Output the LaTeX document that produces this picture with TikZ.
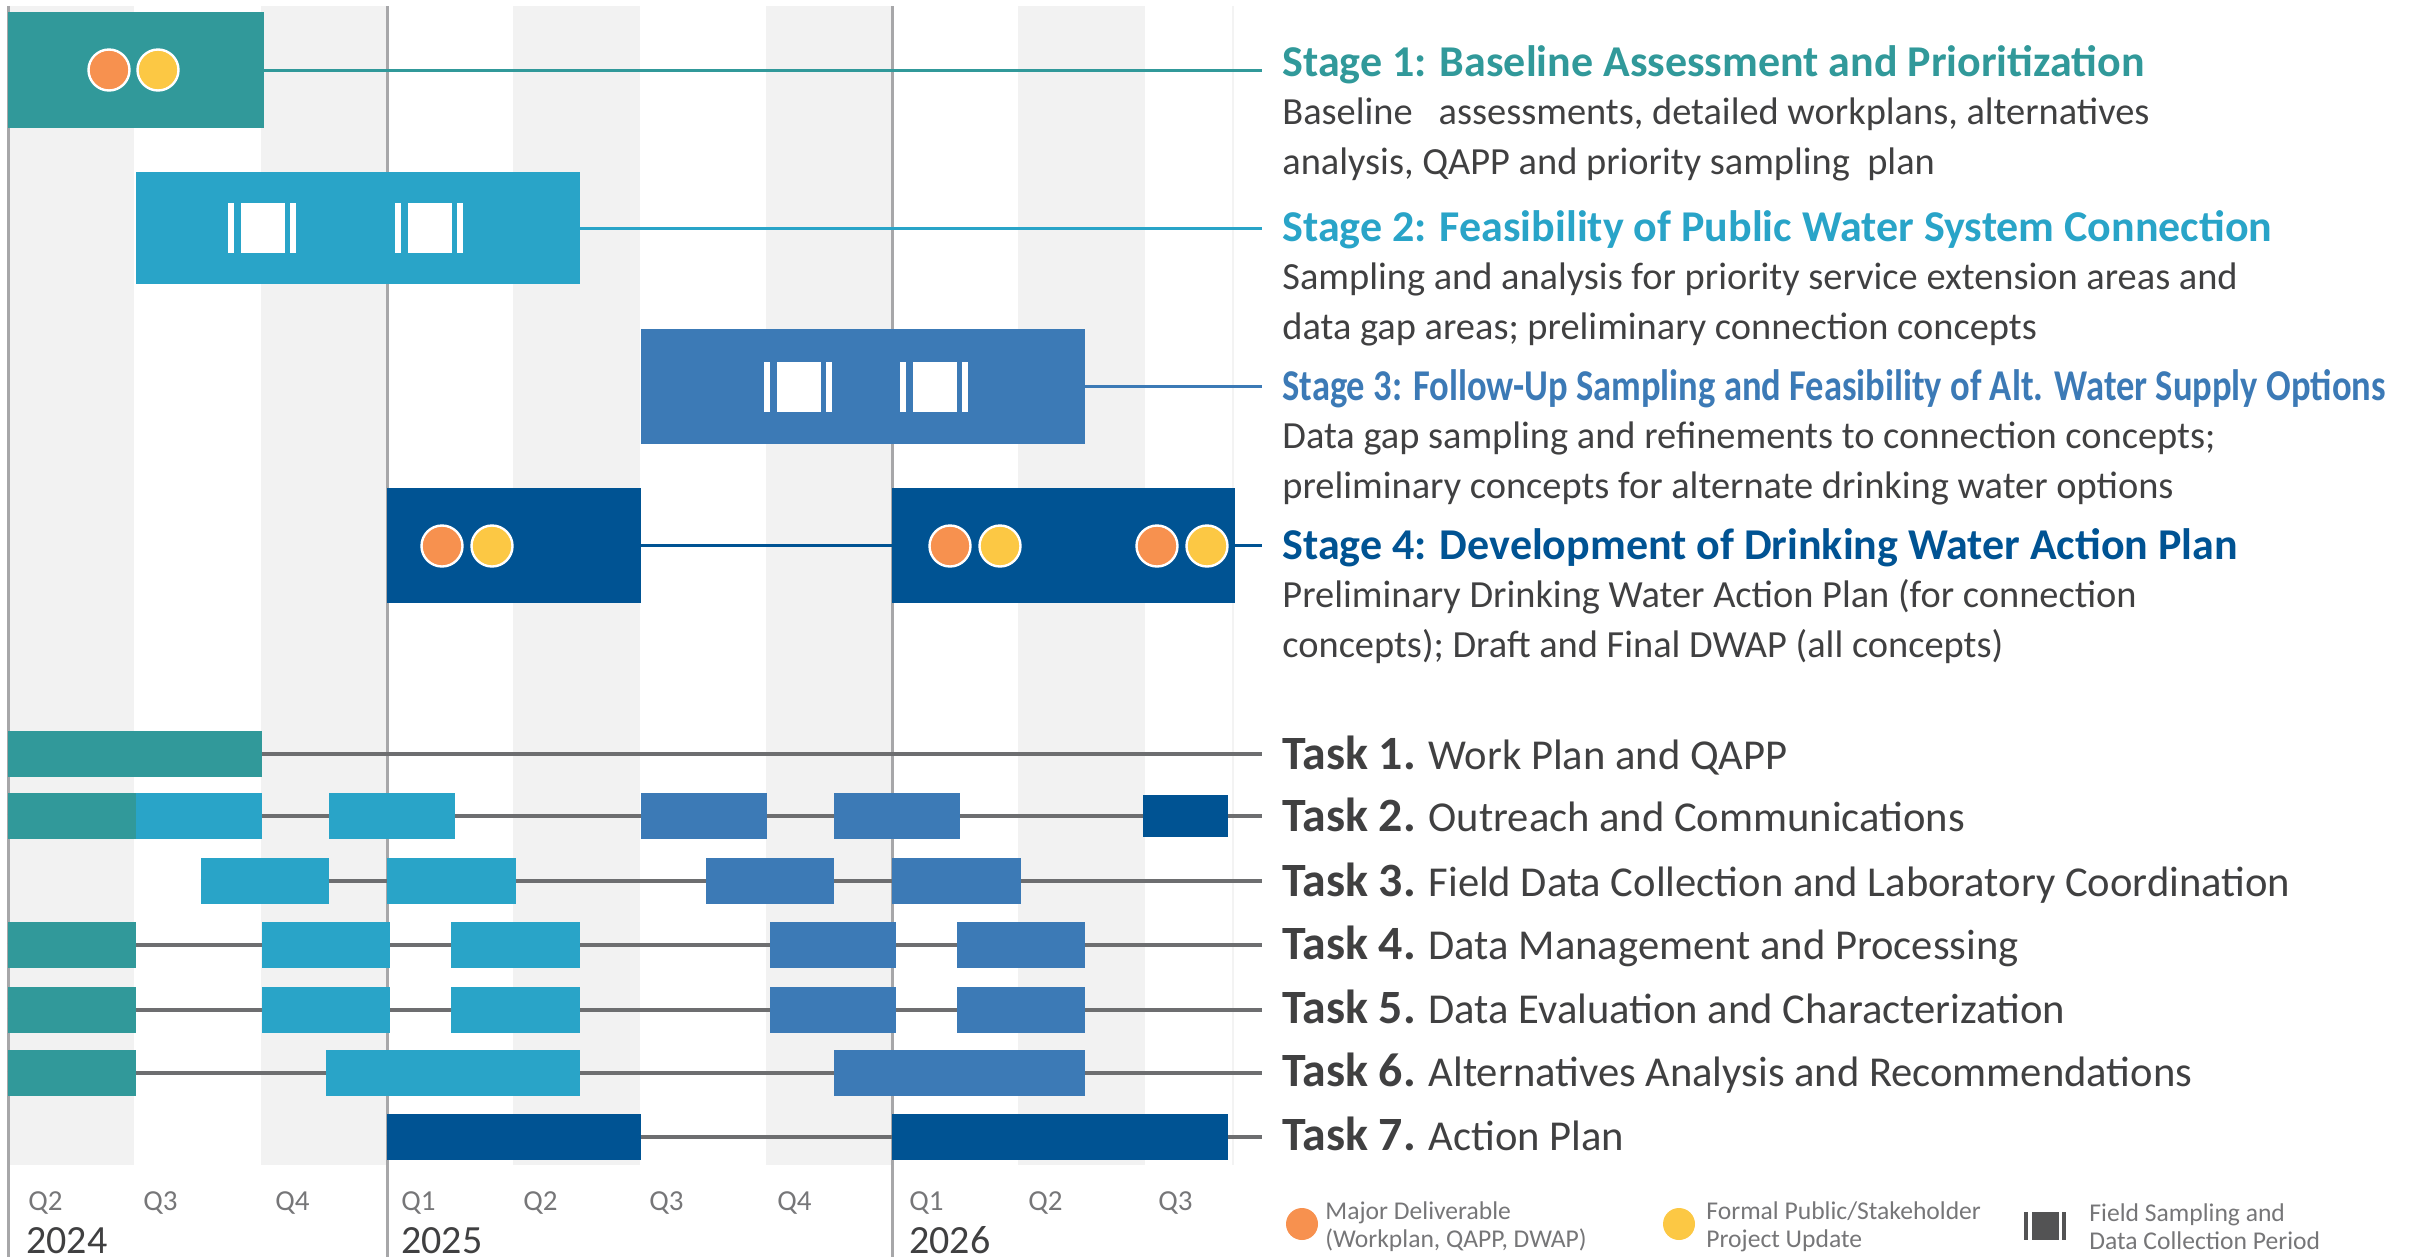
\documentclass[tikz,border=0pt]{standalone}
\usepackage{fontspec}
\setmainfont{Carlito}
\newfontfamily\narrowtitle[FakeStretch=0.83]{Carlito}
\usetikzlibrary{fit}
\definecolor{stageteal}{RGB}{49,153,154}
\definecolor{stagelight}{RGB}{41,164,200}
\definecolor{stagemid}{RGB}{60,122,182}
\definecolor{stagedark}{RGB}{0,83,147}
\definecolor{delivorange}{RGB}{247,145,79}
\definecolor{updateyellow}{RGB}{252,200,68}
\definecolor{bandgray}{RGB}{242,242,242}
\definecolor{yeargray}{RGB}{167,167,169}
\definecolor{taskgray}{RGB}{109,110,112}
\definecolor{textgray}{RGB}{64,64,65}
\definecolor{legendgray}{RGB}{118,118,120}
\newcommand{\tasknum}[1]{{\fontsize{23.9}{28}\selectfont\bfseries #1}}
\pgfdeclarelayer{background}
\pgfdeclarelayer{connect}
\pgfsetlayers{background,connect,main}

\begin{document}
\begin{tikzpicture}[x=0.5pt,y=0.5pt,yscale=-1,
  bar/.style={rectangle,inner sep=0pt,draw=none},
  yearline/.style={draw=yeargray,line width=1.5pt},
  stageline/.style={line width=1.5pt,shorten >=10pt},
  taskline/.style={draw=taskgray,line width=2pt,shorten >=10pt},
  dot/.style={circle,minimum size=20.5pt,inner sep=0pt,draw=white,line width=1.2pt},
  stagetitle/.style={anchor=base west,inner sep=0pt,font=\fontsize{22}{26}\selectfont\bfseries},
  stagetext/.style={anchor=base west,inner sep=0pt,align=left,text=textgray,font=\fontsize{19.2}{25}\selectfont},
  tasklabel/.style={anchor=base west,inner sep=0pt,text=textgray,font=\fontsize{21.3}{25}\selectfont},
  quarter/.style={anchor=base west,inner sep=0pt,text=legendgray,font=\fontsize{14.5}{17}\selectfont},
  year/.style={anchor=base west,inner sep=0pt,text=textgray,font=\fontsize{20}{24}\selectfont},
  legendtext/.style={anchor=west,inner sep=0pt,align=left,text=legendgray,font=\fontsize{12.8}{14}\selectfont},
  fieldmark/.pic={
    \fill[pic actions] (-34,-25) rectangle (-28,25);
    \fill[pic actions] (-21,-25) rectangle (23,25);
    \fill[pic actions] (28,-25) rectangle (34,25);
  }]
\useasboundingbox (0,0) rectangle (2425,1259);

% quarter bands and year lines
\begin{pgfonlayer}{background}
\fill[bandgray] (8,6) rectangle (134,1165);
\fill[bandgray] (261,6) rectangle (387,1165);
\fill[bandgray] (513,6) rectangle (640,1165);
\fill[bandgray] (766,6) rectangle (892,1165);
\fill[bandgray] (1018,6) rectangle (1145,1165);
\draw[draw=bandgray!80!black!20,line width=0.6pt] (1233,6) -- (1233,1165);
\draw[yearline] (8,6) -- (8,1257);
\draw[yearline] (387,6) -- (387,1257);
\draw[yearline] (892,6) -- (892,1257);
\end{pgfonlayer}

% Stage bars
\node[bar,fill=stageteal,fit={(8,12) (264,128)}] (s1bar) {};
\node[bar,fill=stagelight,fit={(136,172) (580,284)}] (s2bar) {};
\node[bar,fill=stagemid,fit={(641,329) (1085,444)}] (s3bar) {};
\node[bar,fill=stagedark,fit={(387,488) (641,603)}] (s4a) {};
\node[bar,fill=stagedark,fit={(892,488) (1235,603)}] (s4b) {};

% Deliverables and updates
\node[dot,fill=delivorange] (s1del) at (109,70) {};
\node[dot,fill=updateyellow] (s1upd) at (158,70) {};
\node[dot,fill=delivorange] (s4dela) at (442,546) {};
\node[dot,fill=updateyellow] (s4upda) at (492,546) {};
\node[dot,fill=delivorange] (s4delb) at (950,546) {};
\node[dot,fill=updateyellow] (s4updb) at (1000,546) {};
\node[dot,fill=delivorange] (s4delc) at (1157,546) {};
\node[dot,fill=updateyellow] (s4updc) at (1207,546) {};

% Field sampling periods
\pic[fill=white] at (261.5,228) {fieldmark};
\pic[fill=white] at (429,228) {fieldmark};
\pic[fill=white] at (797.5,387) {fieldmark};
\pic[fill=white] at (934,387) {fieldmark};

% Stage Text Nodes
\node[stagetitle,text=stageteal] (s1title) at (1282,76) {Stage 1: Baseline Assessment and Prioritization};
\node[stagetext] (s1text) at (1282,174) {Baseline~~~assessments, detailed workplans, alternatives\\analysis, QAPP and priority sampling~~plan};
\node[stagetitle,text=stagelight] (s2title) at (1282,241) {Stage 2: Feasibility of Public Water System Connection};
\node[stagetext] (s2text) at (1282,339) {Sampling and analysis for priority service extension areas and\\data gap areas; preliminary connection concepts};
\node[stagetitle,text=stagemid] (s3title) at (1282,400) {\narrowtitle Stage 3: Follow-Up Sampling and Feasibility of Alt. Water Supply Options};
\node[stagetext] (s3text) at (1282,498) {Data gap sampling and refinements to connection concepts;\\preliminary concepts for alternate drinking water options};
\node[stagetitle,text=stagedark] (s4title) at (1282,559) {Stage 4: Development of Drinking Water Action Plan};
\node[stagetext] (s4text) at (1282,657) {Preliminary Drinking Water Action Plan (for connection\\concepts); Draft and Final DWAP (all concepts)};

% Stage connectors
\draw[stageline,draw=stageteal] (s1bar.east) -- (s1bar.east -| s1title.west);
\draw[stageline,draw=stagelight] (s2bar.east) -- (s2bar.east -| s2title.west);
\draw[stageline,draw=stagemid] (s3bar.east) -- (s3bar.east -| s3title.west);
\draw[stageline,draw=stagedark,shorten >=0pt] (s4a.east) -- (s4b.west);
\draw[stageline,draw=stagedark] (s4b.east) -- (s4b.east -| s4title.west);

% Task bars
\node[bar,fill=stageteal,fit={(8,731) (262,777)}] (t1a) {};

\node[bar,fill=stageteal,fit={(8,793) (136,839)}] (t2a) {};
\node[bar,fill=stagelight,fit={(136,793) (262,839)}] (t2b) {};
\node[bar,fill=stagelight,fit={(329,793) (455,839)}] (t2c) {};
\node[bar,fill=stagemid,fit={(641,793) (767,839)}] (t2d) {};
\node[bar,fill=stagemid,fit={(834,793) (960,839)}] (t2e) {};
\node[bar,fill=stagedark,fit={(1143,795) (1228,837)}] (t2f) {};

\node[bar,fill=stagelight,fit={(201,858) (329,904)}] (t3a) {};
\node[bar,fill=stagelight,fit={(387,858) (516,904)}] (t3b) {};
\node[bar,fill=stagemid,fit={(706,858) (834,904)}] (t3c) {};
\node[bar,fill=stagemid,fit={(892,858) (1021,904)}] (t3d) {};

\node[bar,fill=stageteal,fit={(8,922) (136,968)}] (t4a) {};
\node[bar,fill=stagelight,fit={(262,922) (390,968)}] (t4b) {};
\node[bar,fill=stagelight,fit={(451,922) (580,968)}] (t4c) {};
\node[bar,fill=stagemid,fit={(770,922) (896,968)}] (t4d) {};
\node[bar,fill=stagemid,fit={(957,922) (1085,968)}] (t4e) {};

\node[bar,fill=stageteal,fit={(8,987) (136,1033)}] (t5a) {};
\node[bar,fill=stagelight,fit={(262,987) (390,1033)}] (t5b) {};
\node[bar,fill=stagelight,fit={(451,987) (580,1033)}] (t5c) {};
\node[bar,fill=stagemid,fit={(770,987) (896,1033)}] (t5d) {};
\node[bar,fill=stagemid,fit={(957,987) (1085,1033)}] (t5e) {};

\node[bar,fill=stageteal,fit={(8,1050) (136,1096)}] (t6a) {};
\node[bar,fill=stagelight,fit={(326,1050) (580,1096)}] (t6b) {};
\node[bar,fill=stagemid,fit={(834,1050) (1085,1096)}] (t6c) {};

\node[bar,fill=stagedark,fit={(387,1114) (641,1160)}] (t7a) {};
\node[bar,fill=stagedark,fit={(892,1114) (1228,1160)}] (t7b) {};

% Task Text Nodes
\node[tasklabel] (t1lab) at (1282,769) {\tasknum{Task 1.} Work Plan and QAPP};
\node[tasklabel] (t2lab) at (1282,831) {\tasknum{Task 2.} Outreach and Communications};
\node[tasklabel] (t3lab) at (1282,896) {\tasknum{Task 3.} Field Data Collection and Laboratory Coordination};
\node[tasklabel] (t4lab) at (1282,959) {\tasknum{Task 4.} Data Management and Processing};
\node[tasklabel] (t5lab) at (1282,1023) {\tasknum{Task 5.} Data Evaluation and Characterization};
\node[tasklabel] (t6lab) at (1282,1086) {\tasknum{Task 6.} Alternatives Analysis and Recommendations};
\node[tasklabel] (t7lab) at (1282,1150) {\tasknum{Task 7.} Action Plan};

% Task connectors
\begin{pgfonlayer}{connect}
\draw[taskline] (t1a.east) -- (t1a.east -| t1lab.west);
\draw[taskline] (t2a.west) -- (t2a.west -| t2lab.west);
\draw[taskline] (t3a.west) -- (t3a.west -| t3lab.west);
\draw[taskline] (t4a.west) -- (t4a.west -| t4lab.west);
\draw[taskline] (t5a.west) -- (t5a.west -| t5lab.west);
\draw[taskline] (t6a.west) -- (t6a.west -| t6lab.west);
\draw[taskline] (t7a.west) -- (t7a.west -| t7lab.west);
\end{pgfonlayer}

% Quarter and year Text Nodes
\node[quarter] (q24b) at (28,1210) {Q2};
\node[quarter] (q24c) at (143,1210) {Q3};
\node[quarter] (q24d) at (275,1210) {Q4};
\node[quarter] (q25a) at (401,1210) {Q1};
\node[quarter] (q25b) at (523,1210) {Q2};
\node[quarter] (q25c) at (649,1210) {Q3};
\node[quarter] (q25d) at (777,1210) {Q4};
\node[quarter] (q26a) at (909,1210) {Q1};
\node[quarter] (q26b) at (1028,1210) {Q2};
\node[quarter] (q26c) at (1158,1210) {Q3};
\node[year] (y2024) at (26,1253) {2024};
\node[year] (y2025) at (401,1253) {2025};
\node[year] (y2026) at (909,1253) {2026};

% Legend
\node[circle,minimum size=16pt,inner sep=0pt,fill=delivorange] (legdel) at (1302,1224) {};
\node[legendtext] (legdeltext) at (1325,1227) {Major Deliverable\\(Workplan, QAPP, DWAP)};
\node[circle,minimum size=16pt,inner sep=0pt,fill=updateyellow] (legupd) at (1679,1224) {};
\node[legendtext] (legupdtext) at (1706,1227) {Formal Public/Stakeholder\\Project Update};
\pic[fill=textgray!90,xscale=0.62,yscale=0.55] at (2045,1226) {fieldmark};
\node[legendtext] (legfieldtext) at (2089,1227) {Field Sampling and\\Data Collection Period};
\end{tikzpicture}
\end{document}
